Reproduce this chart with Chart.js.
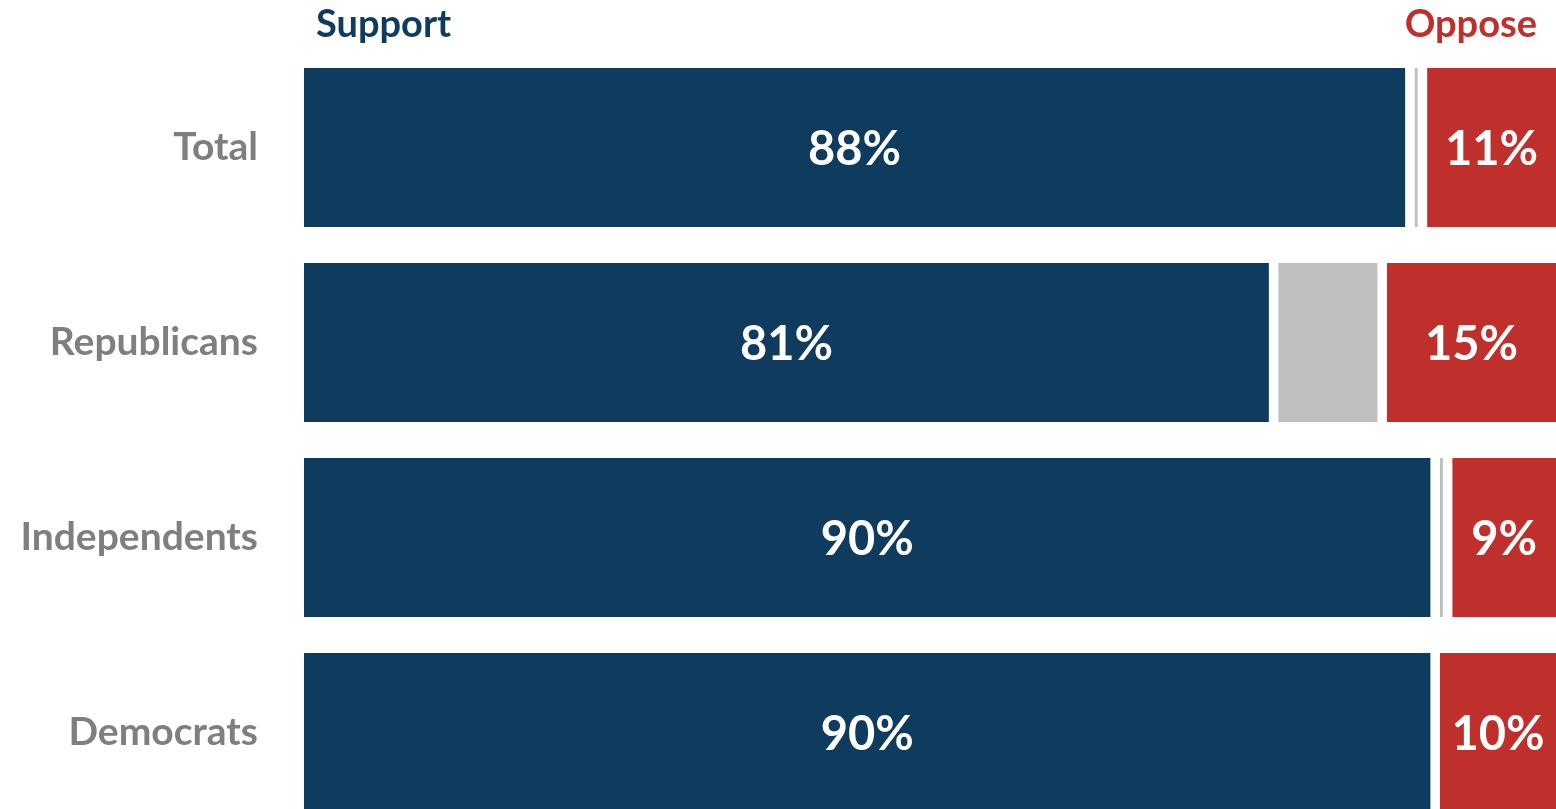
<!DOCTYPE html>
<html>
<head>
<meta charset="utf-8">
<script src="https://cdn.jsdelivr.net/npm/chart.js@4.4.1/dist/chart.umd.min.js"></script>
<style>
html, body { margin: 0; padding: 0; background: #fff; overflow: hidden; }
</style>
</head>
<body>
<canvas id="myChart" width="1556" height="830"></canvas>
<script>
// groups and values (bar lengths), plus the printed labels
const groups = ['Total', 'Republicans', 'Independents', 'Democrats'];
const support = [88, 77.2, 90, 90];
const unsure = [0.24, 7.85, 0.24, 0];
const oppose = [11, 15, 9, 10];
const supportText = ['88%', '81%', '90%', '90%'];
const opposeText = ['11%', '15%', '9%', '10%'];

const NAVY = '#0f3b5e';
const RED = '#bf2f2c';
const GRAY = '#bfbfbf';
const GAP = 9.5;

const labelPlugin = {
    id: 'labels',
    afterDatasetsDraw(chart) {
        const ctx = chart.ctx;
        const area = chart.chartArea;
        ctx.save();
        ctx.textAlign = 'center';
        ctx.textBaseline = 'middle';
        ctx.fillStyle = '#fff';
        ctx.font = 'bold 47px Lato';
        chart.getDatasetMeta(0).data.forEach((bar, i) => {
            const x = (bar.base + bar.x - GAP) / 2;
            ctx.fillText(supportText[i], x, bar.y + 2);
        });
        chart.getDatasetMeta(2).data.forEach((bar, i) => {
            const left = bar.base + (unsure[i] > 0 ? GAP : 0);
            const right = Math.min(bar.x, area.right);
            ctx.fillText(opposeText[i], (left + right) / 2, bar.y + 2);
        });
        // headers above the bars
        ctx.textBaseline = 'alphabetic';
        ctx.font = 'bold 38px Lato';
        ctx.textAlign = 'left';
        ctx.fillStyle = NAVY;
        ctx.fillText('Support', area.left + 12, 37);
        ctx.textAlign = 'right';
        ctx.fillStyle = RED;
        ctx.fillText('Oppose', area.right - 19, 37);
        ctx.restore();
    }
};

const ctx = document.getElementById('myChart').getContext('2d');
// eslint-disable-next-line no-undef
new Chart(ctx, {
    type: 'bar',
    data: {
        labels: groups,
        datasets: [{
            label: 'Support',
            data: support,
            backgroundColor: NAVY,
            borderColor: '#fff',
            borderWidth: { top: 0, bottom: 0, left: 0, right: GAP },
            borderSkipped: false
        }, {
            label: 'Unsure',
            data: unsure,
            backgroundColor: GRAY,
            borderWidth: 0
        }, {
            label: 'Oppose',
            data: oppose,
            backgroundColor: RED,
            borderColor: '#fff',
            borderWidth: (c) => ({ top: 0, bottom: 0, right: 0, left: unsure[c.dataIndex] > 0 ? GAP : 0 }),
            borderSkipped: false
        }]
    },
    options: {
        indexAxis: 'y',
        responsive: false,
        animation: false,
        events: [],
        categoryPercentage: 1,
        barPercentage: 0.815,
        layout: { padding: { top: 50, left: 0, right: 0, bottom: 0 } },
        plugins: {
            legend: { display: false },
            tooltip: { enabled: false }
        },
        scales: {
            x: {
                stacked: true,
                min: 0,
                max: 99.2,
                display: false
            },
            y: {
                stacked: true,
                grid: { display: false, drawTicks: false },
                border: { display: false },
                ticks: {
                    color: '#7f7f7f',
                    padding: 46,
                    font: { family: 'Lato', weight: 'bold', size: 39 }
                },
                afterFit(scale) {
                    scale.width = 304;
                    scale.paddingTop = 0;
                    scale.paddingBottom = 0;
                }
            }
        }
    },
    plugins: [labelPlugin]
});
</script>
</body>
</html>
